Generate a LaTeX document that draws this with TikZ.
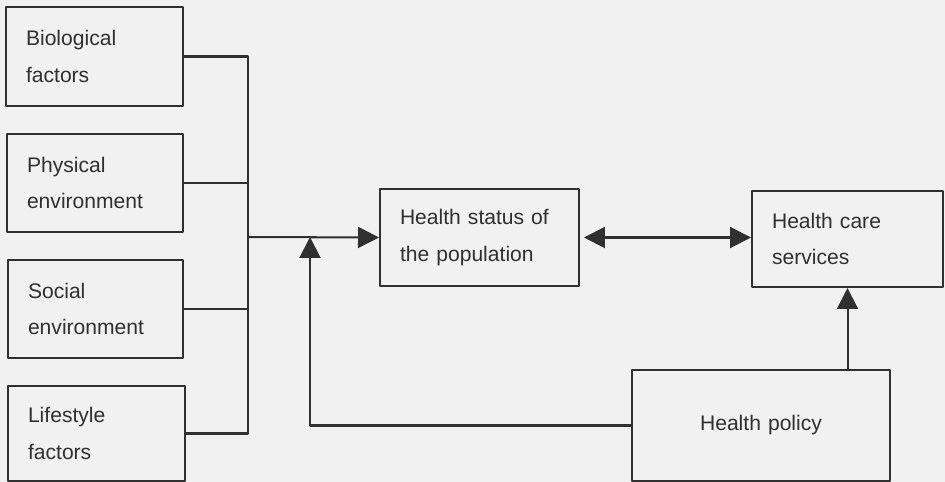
\documentclass[tikz,border=0pt]{standalone}
\usepackage{fontspec}
\setmainfont{Liberation Sans}
\usetikzlibrary{arrows.meta}
\definecolor{ink}{RGB}{48,48,48}
\definecolor{paper}{RGB}{241,241,241}
\begin{document}
\begin{tikzpicture}[x=.02cm,y=-.02cm,line width=1.15pt,color=ink,line join=round,
  >={Triangle[length=.42cm,width=.42cm]},
  box/.style={draw,inner xsep=.4cm,inner ysep=0pt,align=left,font=\fontsize{12}{21}\selectfont}]
  \useasboundingbox[fill=paper] (0,0) rectangle (945,482);
  \node[box,text width=2.74cm,minimum height=1.98cm] (bio) at (94.5,56.5) {Biological\\factors};
  \node[box,text width=2.72cm,minimum height=1.96cm] (phys) at (95,183) {Physical\\environment};
  \node[box,text width=2.70cm,minimum height=1.96cm] (soc) at (95.5,309) {Social\\environment};
  \node[box,text width=2.74cm,minimum height=1.90cm] (life) at (96.5,433.5) {Lifestyle\\factors};
  \node[box,text width=3.18cm,minimum height=1.94cm] (status) at (479.5,237.5) {Health status of\\the population};
  \node[box,text width=3.02cm,minimum height=1.92cm] (care) at (847.5,239) {Health care\\services};
  \node[box,text width=4.36cm,minimum height=2.22cm,align=center] (policy) at (761,425.5) {Health policy};
  \coordinate (bus) at (248,237);
  \coordinate (up) at (310,237);
  \draw (bio.east) -- (bio.east -| bus) |- (life.east);
  \draw (phys.east) -- (phys.east -| bus);
  \draw (soc.east) -- (soc.east -| bus);
  \draw[->] (bus) -- (status.west);
  \draw[->] (policy.west) -| (up);
  \draw[<->,shorten <=.08cm] (status.east) -- (status.east -| care.west);
  \draw[->] (policy.north -| care.south) -- (care.south);
\end{tikzpicture}
\end{document}
